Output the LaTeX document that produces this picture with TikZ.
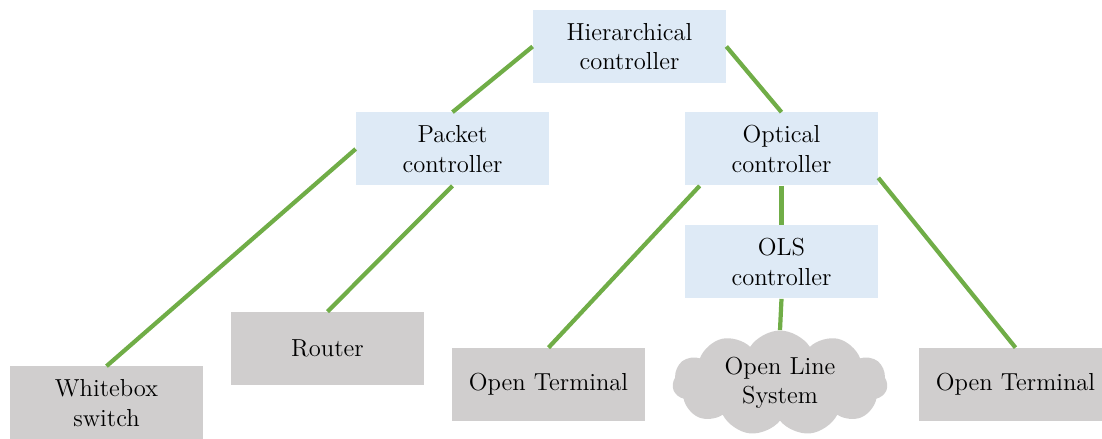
\documentclass[tikz,border=0pt]{standalone}
\usepackage{xcolor}
\usepackage{tikz}
\usetikzlibrary{shapes, shapes.symbols, positioning}
\definecolor{ctrlblue}{HTML}{DEEAF6}
\definecolor{devgray}{HTML}{D0CECE}
\definecolor{linkgreen}{HTML}{70AD47}

\begin{document}
\begin{tikzpicture}
  [
    Ctrl/.style={rectangle, fill=ctrlblue, minimum width=3.86cm, minimum height=1.46cm, align=center,
      font=\fontsize{14}{16.8}\selectfont},
    Dev/.style={rectangle, fill=devgray, minimum width=3.86cm, minimum height=1.46cm, align=center,
      font=\fontsize{14}{16.8}\selectfont},
    Cloud/.style={cloud, cloud puffs=11, cloud puff arc=115, aspect=2.1, fill=devgray, minimum width=4.3cm,
      minimum height=2.1cm, align=center, inner sep=0pt, font=\fontsize{14}{16.8}\selectfont},
    Link/.style={draw=linkgreen, line width=2.4pt}
  ]
  \useasboundingbox (0,0) rectangle (22.04,-8.78);
  % Nodes
  \node[Ctrl] (hier) at(12.59, -0.93) {Hierarchical\\controller};
  \node[Ctrl] (pkt) at(9.05, -2.98) {Packet\\controller};
  \node[Ctrl] (opt) at(15.63, -2.98) {Optical\\controller};
  \node[Ctrl] (ols) at(15.63, -5.24) {OLS\\controller};
  \node[Dev] (wb) at(2.13, -8.06) {Whitebox\\switch};
  \node[Dev] (rtr) at(6.55, -6.97) {Router};
  \node[Dev] (ot1) at(10.97, -7.69) {Open Terminal};
  \node[Cloud] (olsys) at(15.6, -7.66) {Open Line\\System};
  \node[Dev] (ot2) at(20.31, -7.69) {Open Terminal};
  % Lines
  \path [Link] (hier.west) -- (pkt.north);
  \path [Link] (hier.east) -- (opt.north);
  \path [Link] (pkt.west) -- (wb.north);
  \path [Link] (pkt.south) -- (rtr.north);
  \path [Link] ([xshift=0.3cm]opt.south west) -- (ot1.north);
  \path [Link] ([yshift=0.16cm]opt.south east) -- (ot2.north);
  \path [Link] (opt.south) -- (ols.north);
  \path [Link] (ols.south) -- (olsys.north);
\end{tikzpicture}
\end{document}
